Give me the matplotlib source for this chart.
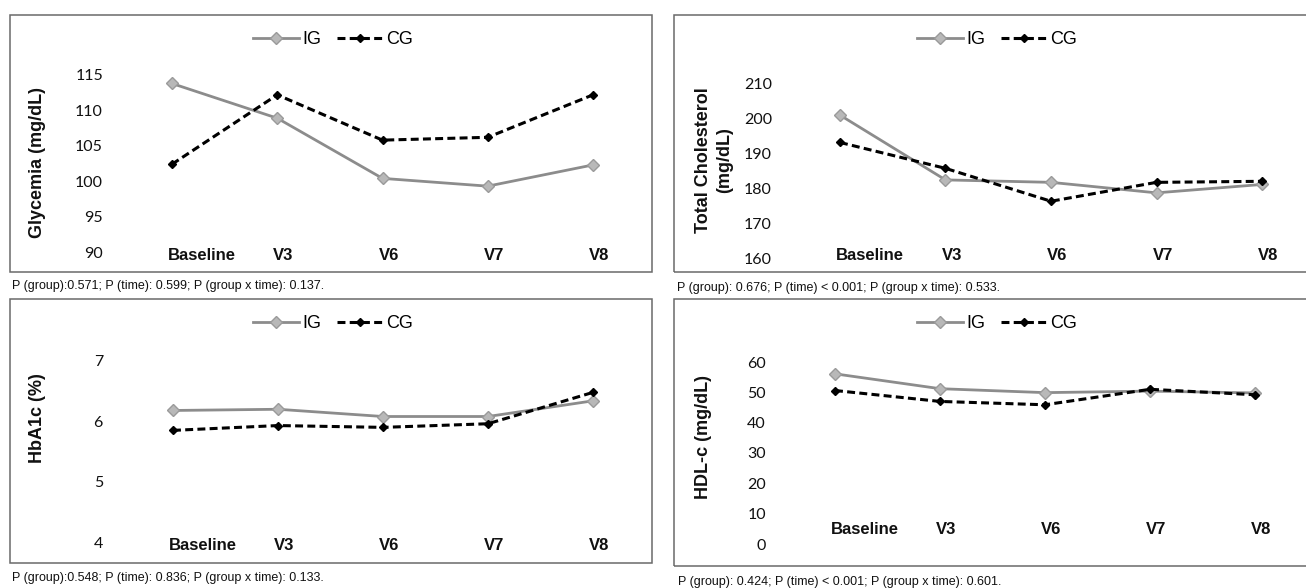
import matplotlib
matplotlib.use("Agg")
import matplotlib.pyplot as plt
from matplotlib.patches import Rectangle
from matplotlib.lines import Line2D
import matplotlib.transforms as mtransforms

# ---------------- data ----------------
categories = ["Baseline", "V3", "V6", "V7", "V8"]
series_names = ["IG", "CG"]

glyc_ig = [113.8, 108.9, 100.4, 99.3, 102.3]
glyc_cg = [102.4, 112.2, 105.8, 106.2, 112.2]
glyc_ticks = [90, 95, 100, 105, 110, 115]

chol_ig = [201.1, 182.6, 181.9, 178.9, 181.3]
chol_cg = [193.3, 185.9, 176.5, 181.9, 182.2]
chol_ticks = [160, 170, 180, 190, 200, 210]

hba_ig = [6.18, 6.20, 6.08, 6.08, 6.34]
hba_cg = [5.85, 5.93, 5.90, 5.96, 6.48]
hba_ticks = [4, 5, 6, 7]

hdl_ig = [56.1, 51.2, 49.9, 50.4, 49.8]
hdl_cg = [50.6, 47.0, 45.9, 51.0, 49.2]
hdl_ticks = [0, 10, 20, 30, 40, 50, 60]

ylabels = ["Glycemia (mg/dL)", "Total Cholesterol\n(mg/dL)", "HbA1c (%)", "HDL-c (mg/dL)"]
pvalue_texts = [
    "P (group):0.571; P (time): 0.599; P (group x time): 0.137.",
    "P (group): 0.676; P (time) < 0.001; P (group x time): 0.533.",
    "P (group):0.548; P (time): 0.836; P (group x time): 0.133.",
    "P (group): 0.424; P (time) < 0.001; P (group x time): 0.601.",
]

# ---------------- layout (pixels) ----------------
W, H = 1306, 588
DPI = 100
fig = plt.figure(figsize=(W / DPI, H / DPI), dpi=DPI)
fig.patch.set_facecolor("white")

TICK_FONT = "Lato"
MAIN_FONT = "Liberation Sans"

def fx(x):
    return x / W

def fy(y):
    return 1 - y / H

panels = [
    dict(ig=glyc_ig, cg=glyc_cg, ticks=glyc_ticks, ylabel=ylabels[0], ptext=pvalue_texts[0],
         box=(10, 15, 652, 272), xfirst=172, xlast=593, ya=(115, 75), yb=(90, 252),
         tick_right=103, cat_y=256, ylab_xy=(38, 163), leg_xy=(333, 40), p_xy=(12, 286)),
    dict(ig=chol_ig, cg=chol_cg, ticks=chol_ticks, ylabel=ylabels[1], ptext=pvalue_texts[1],
         box=(674, 15, 1312, 272), xfirst=840, xlast=1262, ya=(210, 84), yb=(160, 259),
         tick_right=772, cat_y=255, ylab_xy=(714, 160), leg_xy=(997, 40), p_xy=(677, 288)),
    dict(ig=hba_ig, cg=hba_cg, ticks=hba_ticks, ylabel=ylabels[2], ptext=pvalue_texts[2],
         box=(10, 299, 652, 563), xfirst=173, xlast=593, ya=(7, 361), yb=(4, 542),
         tick_right=103, cat_y=545, ylab_xy=(38, 418), leg_xy=(333, 324), p_xy=(12, 578)),
    dict(ig=hdl_ig, cg=hdl_cg, ticks=hdl_ticks, ylabel=ylabels[3], ptext=pvalue_texts[3],
         box=(674, 299, 1312, 566), xfirst=835, xlast=1255, ya=(60, 362), yb=(0, 544),
         tick_right=766, cat_y=530, ylab_xy=(703, 437), leg_xy=(997, 324), p_xy=(678, 582)),
]

IG_LINE = "#8c8c8c"
IG_FACE = "#b8b8b8"
IG_EDGE = "#9a9a9a"
CG_COLOR = "#000000"

for p in panels:
    # frame
    x0, y0, x1, y1 = p["box"]
    fig.patches.append(Rectangle((fx(x0), fy(y1)), fx(x1 - x0), (y1 - y0) / H,
                                 transform=fig.transFigure, fill=False,
                                 edgecolor="#6a6a6a", linewidth=1.1, zorder=0))

    # axes geometry from pixel anchors
    sx = (p["xlast"] - p["xfirst"]) / 4.0
    xlim = (-0.5, 4.5)
    left = p["xfirst"] + xlim[0] * sx
    right = p["xfirst"] + xlim[1] * sx
    (va, pa), (vb, pb) = p["ya"], p["yb"]
    sy = (pb - pa) / (vb - va)
    span = va - vb
    ylim = (vb - 0.05 * span, va + 0.05 * span)
    top_px = pa + (ylim[1] - va) * sy
    bot_px = pa + (ylim[0] - va) * sy
    ax = fig.add_axes([fx(left), fy(bot_px), fx(right - left), (bot_px - top_px) / H])
    ax.set_xlim(*xlim)
    ax.set_ylim(*ylim)
    ax.patch.set_alpha(0)
    for s in ax.spines.values():
        s.set_visible(False)

    xs = list(range(len(categories)))
    l_ig, = ax.plot(xs, p["ig"], color=IG_LINE, lw=2.0, marker="D", ms=6.2,
                    mfc=IG_FACE, mec=IG_EDGE, mew=1.0, clip_on=False, zorder=3,
                    label=series_names[0])
    l_cg, = ax.plot(xs, p["cg"], color=CG_COLOR, lw=2.2, linestyle=(0, (2.6, 1.4)),
                    marker="D", ms=4.3, mfc=CG_COLOR, mec=CG_COLOR, clip_on=False,
                    zorder=4, label=series_names[1])

    # y tick labels
    pad_pt = (left - p["tick_right"]) * 72.0 / DPI
    ax.set_yticks(p["ticks"])
    ax.set_yticklabels([str(t) for t in p["ticks"]], fontfamily=TICK_FONT, fontsize=11.5)
    ax.tick_params(axis="y", length=0, pad=pad_pt, colors="#111111")
    ax.set_xticks([])

    # category labels (left aligned near each point)
    trans = mtransforms.blended_transform_factory(ax.transData, fig.transFigure)
    for i, c in enumerate(categories):
        ax.text(i - 4.0 / sx, fy(p["cat_y"]), c, transform=trans, ha="left", va="center",
                fontfamily=MAIN_FONT, fontweight="bold", fontsize=12, color="#111111")

    # y label
    fig.text(fx(p["ylab_xy"][0]), fy(p["ylab_xy"][1]), p["ylabel"], rotation=90,
             ha="center", va="center", multialignment="center", linespacing=1.3,
             fontfamily=MAIN_FONT, fontweight="bold", fontsize=13, color="#111111")

    # legend
    fig.legend(handles=[l_ig, l_cg], loc="center",
               bbox_to_anchor=(fx(p["leg_xy"][0]), fy(p["leg_xy"][1])),
               bbox_transform=fig.transFigure, ncol=2, frameon=False,
               prop={"family": MAIN_FONT, "size": 13}, handlelength=2.55,
               handletextpad=0.15, columnspacing=0.9, borderpad=0, borderaxespad=0)

    # p-value note
    fig.text(fx(p["p_xy"][0]), fy(p["p_xy"][1]), p["ptext"], ha="left", va="center",
             fontfamily=MAIN_FONT, fontsize=9, color="#111111")

fig.savefig("out.png", dpi=DPI, facecolor="white")
